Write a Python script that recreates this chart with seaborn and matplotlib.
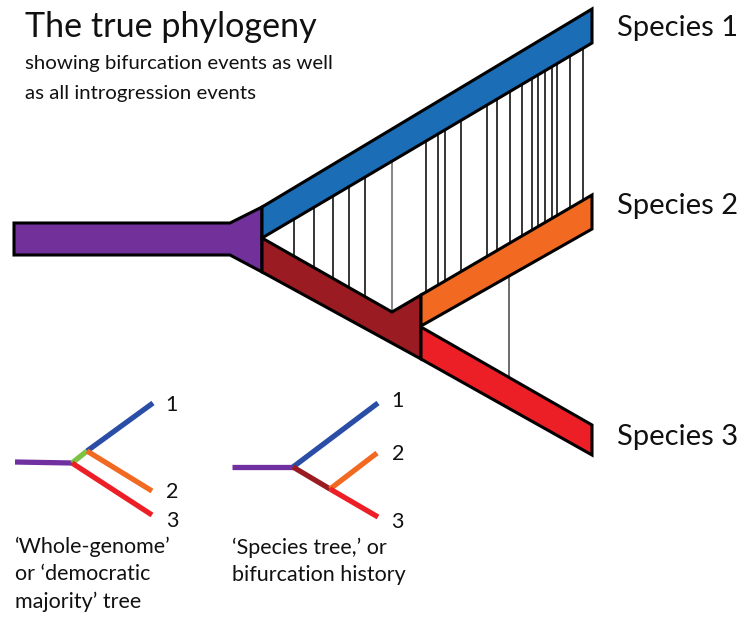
import numpy as np
import pandas as pd
import matplotlib
matplotlib.use("Agg")
import matplotlib.pyplot as plt
from matplotlib.patches import Polygon
import seaborn as sns

sns.set_theme(style="white")
plt.rcParams['font.family'] = ['Lato', 'DejaVu Sans']

# ---- data (diagram geometry, pixel space of the 740x619 canvas) ----
stem_x = [14, 230, 262, 262, 230, 14]
stem_y = [223, 223, 207, 272, 255, 255]
sp1_x = [262, 592, 592, 262]
sp1_y = [207, 9, 43, 238]
anc23_x = [262, 392, 421, 421, 262]
anc23_y = [238, 312, 295, 359, 272]
sp2_x = [421, 592, 592, 421]
sp2_y = [295, 195, 229, 326]
sp3_x = [421, 592, 592, 421]
sp3_y = [327, 425, 455, 359]

# introgression events (x positions)
intro_1_23 = [294, 314, 333, 349, 365, 392]
intro_1_2 = [426, 438, 445, 461, 487, 497, 510, 522, 532, 538, 545, 552, 557, 570, 583]
intro_2_3 = [509]

band_colors = {"stem": "#71309A", "sp1": "#1B6DB5", "anc23": "#9A1B21",
               "sp2": "#F26A22", "sp3": "#EC1E26"}

# small trees: segments (x0, y0, x1, y1, colour)
tree_a = pd.DataFrame({
    "x0": [15, 72, 87, 87, 72],
    "y0": [462, 463, 451, 451, 463],
    "x1": [72, 87, 153, 152, 152],
    "y1": [463, 451, 403, 491, 515],
    "c": ["#7030A0", "#7DC242", "#2A4EA6", "#F26A22", "#EC1E26"],
})
tree_b = pd.DataFrame({
    "x0": [232, 293, 293, 330, 330],
    "y0": [467, 467, 467, 489, 489],
    "x1": [293, 378, 330, 377, 378],
    "y1": [467, 403, 489, 453, 517],
    "c": ["#7030A0", "#2A4EA6", "#9A1B21", "#F26A22", "#EC1E26"],
})
tree_a_labels = ["1", "2", "3"]
tree_a_lab_xy = [(165, 405), (166, 492), (166, 521)]
tree_b_labels = ["1", "2", "3"]
tree_b_lab_xy = [(391, 401), (392, 454), (391, 522)]

species = ["Species 1", "Species 2", "Species 3"]
species_y = [28, 206, 437]

# ---- figure ----
fig = plt.figure(figsize=(7.4, 6.19), dpi=100)
ax = fig.add_axes([0, 0, 1, 1])
ax.set_xlim(0, 740)
ax.set_ylim(619, 0)
ax.axis("off")


def yline(xs, ys, x, lo, hi):
    return ys[lo] + (x - xs[lo]) * (ys[hi] - ys[lo]) / (xs[hi] - xs[lo])


# introgression lines (behind bands)
for x in intro_1_23:
    y0 = yline(sp1_x, sp1_y, x, 3, 2)
    y1 = yline(anc23_x, anc23_y, x, 0, 1)
    ax.plot([x, x], [y0, y1], color="black" if x != 392 else "#666666", lw=1.1, zorder=1)
for x in intro_1_2:
    y0 = yline(sp1_x, sp1_y, x, 3, 2)
    y1 = yline(sp2_x, sp2_y, x, 0, 1)
    ax.plot([x, x], [y0, y1], color="black", lw=1.1, zorder=1)
for x in intro_2_3:
    y0 = yline(sp2_x, sp2_y, x, 3, 2)
    y1 = yline(sp3_x, sp3_y, x, 0, 1)
    ax.plot([x, x], [y0, y1], color="#444444", lw=1.1, zorder=1)

for key, xs, ys in [("stem", stem_x, stem_y), ("sp1", sp1_x, sp1_y),
                    ("anc23", anc23_x, anc23_y), ("sp2", sp2_x, sp2_y),
                    ("sp3", sp3_x, sp3_y)]:
    ax.add_patch(Polygon(np.column_stack([xs, ys]), closed=True,
                         facecolor=band_colors[key], edgecolor="black",
                         lw=2.2, joinstyle="miter", zorder=2))

for tree in (tree_a, tree_b):
    for _, r in tree.iterrows():
        ax.plot([r.x0, r.x1], [r.y0, r.y1], color=r.c, lw=3.8,
                solid_capstyle="butt", zorder=3)

for lab, (x, y) in zip(tree_a_labels + tree_b_labels, tree_a_lab_xy + tree_b_lab_xy):
    ax.text(x, y, lab, fontsize=15.5, ha="left", va="center", color="#111111")

for s, y in zip(species, species_y):
    ax.text(617, y, s, fontsize=21, ha="left", va="center", color="#111111")

ax.text(25, 27, "The true phylogeny", fontsize=24.6, ha="left", va="center", color="#111111")
ax.text(25, 64, "showing bifurcation events as well",
        fontsize=14.7, ha="left", va="center", color="#111111")
ax.text(25, 93, "as all introgression events",
        fontsize=14.7, ha="left", va="center", color="#111111")

ax.text(15, 574, "\u2018Whole-genome\u2019\nor \u2018democratic\nmajority\u2019 tree",
        fontsize=15.5, ha="left", va="center", linespacing=1.45, color="#111111")
ax.text(232, 561, "\u2018Species tree,\u2019 or\nbifurcation history",
        fontsize=15.5, ha="left", va="center", linespacing=1.45, color="#111111")

fig.savefig("out.png", dpi=100)
